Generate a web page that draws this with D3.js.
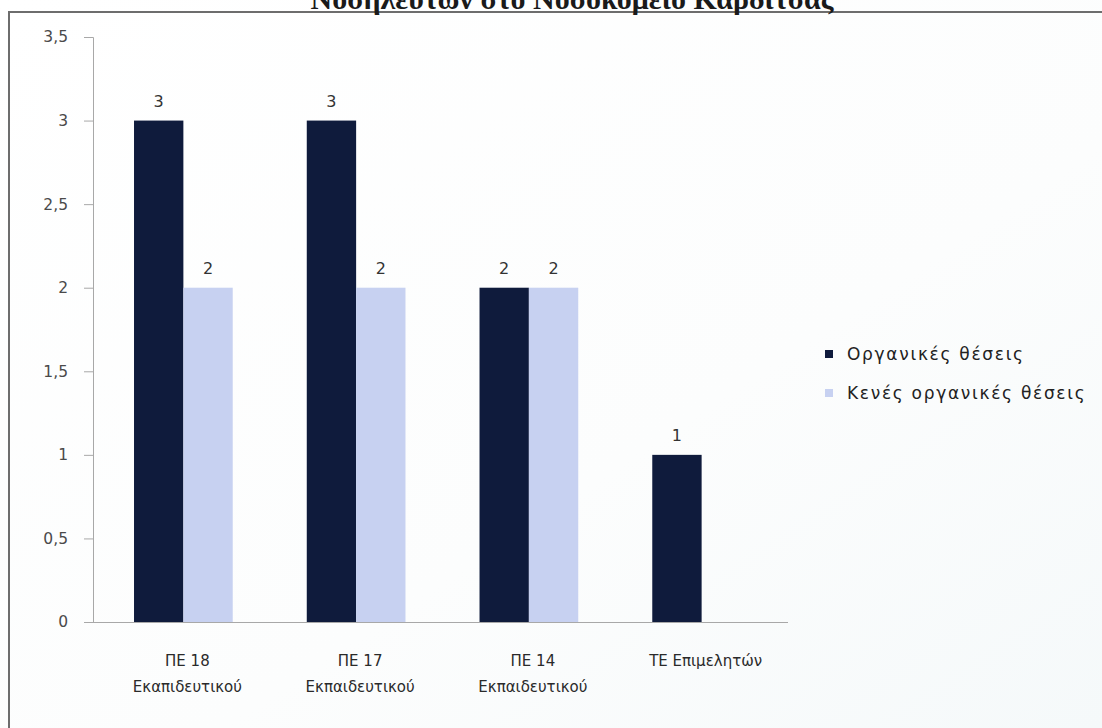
<!DOCTYPE html>
<html>
<head>
<meta charset="utf-8">
<script src="https://cdn.jsdelivr.net/npm/d3@7"></script>
<style>
  html, body { margin: 0; padding: 0; background: #f9fbfc; }
  svg { display: block; }
</style>
</head>
<body>
<svg id="chart" width="1102" height="728"></svg>
<script>
// Chart data
const titleText = "Νοσηλευτών στο Νοσοκομείο Καρδίτσας";
const categories = ["ΠΕ 18 Εκαπιδευτικού", "ΠΕ 17 Εκπαιδευτικού", "ΠΕ 14 Εκπαιδευτικού", "ΤΕ Επιμελητών"];
const categoryLines = [["ΠΕ 18", "Εκαπιδευτικού"], ["ΠΕ 17", "Εκπαιδευτικού"], ["ΠΕ 14", "Εκπαιδευτικού"], ["ΤΕ Επιμελητών"]];
const seriesNames = ["Οργανικές θέσεις", "Κενές οργανικές θέσεις"];
const organicPositions = [3, 3, 2, 1];
const vacantPositions = [2, 2, 2, null];
const seriesColors = ["#0f1b3c", "#c7d1f1"];
const yTicks = [0, 0.5, 1, 1.5, 2, 2.5, 3, 3.5];

const svg = d3.select("#chart");
const W = 1102, H = 728;

// soft background wash
const defs = svg.append("defs");
const grad = defs.append("linearGradient").attr("id", "bg").attr("x1", 0).attr("y1", 0).attr("x2", 1).attr("y2", 1);
grad.append("stop").attr("offset", "0%").attr("stop-color", "#ffffff");
grad.append("stop").attr("offset", "60%").attr("stop-color", "#fcfdfd");
grad.append("stop").attr("offset", "100%").attr("stop-color", "#f5f9fa");
svg.append("rect").attr("width", W).attr("height", H).attr("fill", "url(#bg)");

// frame lines
svg.append("line").attr("x1", 9).attr("x2", W).attr("y1", 12).attr("y2", 12)
  .attr("stroke", "#6d6d6d").attr("stroke-width", 2);
svg.append("line").attr("x1", 9).attr("x2", 9).attr("y1", 11).attr("y2", H)
  .attr("stroke", "#6d6d6d").attr("stroke-width", 2);

// title (its upper half runs past the top edge of the page)
svg.append("text")
  .attr("x", 572).attr("y", 9)
  .attr("text-anchor", "middle")
  .attr("font-family", "Liberation Serif, serif")
  .attr("font-weight", "bold")
  .attr("font-size", 30)
  .attr("fill", "#1a1a1a")
  .text(titleText);

const margin = { left: 93, right: 318, top: 37, bottom: 106 };
const plotW = W - margin.left - margin.right;
const plotH = H - margin.top - margin.bottom;
const g = svg.append("g").attr("transform", `translate(${margin.left},${margin.top})`);

const x0 = d3.scaleBand().domain(categories).range([4, plotW + 4]).paddingInner(0).paddingOuter(0);
const x1 = d3.scaleBand().domain(seriesNames).range([0, x0.bandwidth()]).paddingInner(0).paddingOuter(0.75);
const y = d3.scaleLinear().domain([0, 3.5]).range([plotH, 0]);

// y axis
const yAxis = g.append("g").call(d3.axisLeft(y).tickValues(yTicks).tickSize(9)
  .tickFormat(d => d3.format("")(d).replace(".", ",")));
yAxis.select(".domain").attr("stroke", "#a8a8a8");
yAxis.selectAll(".tick line").attr("stroke", "#a8a8a8");
yAxis.selectAll(".tick text")
  .attr("x", -25)
  .attr("font-family", "DejaVu Sans, sans-serif")
  .attr("font-size", 15.5)
  .attr("fill", "#4a4a4a");

// x axis
const xAxis = g.append("g").attr("transform", `translate(0,${plotH})`)
  .call(d3.axisBottom(x0).tickSize(0).tickFormat(""));
xAxis.select(".domain").attr("stroke", "#a8a8a8").attr("d", `M-4,0.5H${plotW + 4}`);

// category labels on two lines
categories.forEach((c, i) => {
  const cx = x0(c) + x0.bandwidth() / 2 + 4;
  const t = g.append("text")
    .attr("x", cx)
    .attr("y", plotH + 44)
    .attr("text-anchor", "middle")
    .attr("font-family", "DejaVu Sans, sans-serif")
    .attr("font-size", 15)
    .attr("fill", "#2a2a2a");
  categoryLines[i].forEach((line, j) => {
    t.append("tspan").attr("x", cx).attr("dy", j === 0 ? 0 : 26).text(line);
  });
});

// bars with value labels
const series = [organicPositions, vacantPositions];
series.forEach((vals, s) => {
  const name = seriesNames[s];
  const rows = categories.map((c, i) => ({ c, v: vals[i] })).filter(d => d.v != null);
  g.selectAll(null).data(rows).enter().append("rect")
    .attr("x", d => x0(d.c) + x1(name))
    .attr("y", d => y(d.v))
    .attr("width", x1.bandwidth())
    .attr("height", d => y(0) - y(d.v))
    .attr("fill", seriesColors[s]);
  g.selectAll(null).data(rows).enter().append("text")
    .attr("x", d => x0(d.c) + x1(name) + x1.bandwidth() / 2)
    .attr("y", d => y(d.v) - 14)
    .attr("text-anchor", "middle")
    .attr("font-family", "DejaVu Sans, sans-serif")
    .attr("font-size", 16)
    .attr("fill", "#333")
    .text(d => d.v);
});

// legend
const legend = svg.append("g").attr("transform", "translate(825,354)");
seriesNames.forEach((n, i) => {
  const row = legend.append("g").attr("transform", `translate(0,${i * 39})`);
  row.append("rect").attr("x", 0).attr("y", -4).attr("width", 8).attr("height", 8).attr("fill", seriesColors[i]);
  row.append("text").attr("x", 22).attr("y", 6)
    .attr("font-family", "DejaVu Sans, sans-serif")
    .attr("font-size", 17)
    .attr("letter-spacing", 1.7)
    .attr("fill", "#222")
    .text(n);
});
</script>
</body>
</html>
